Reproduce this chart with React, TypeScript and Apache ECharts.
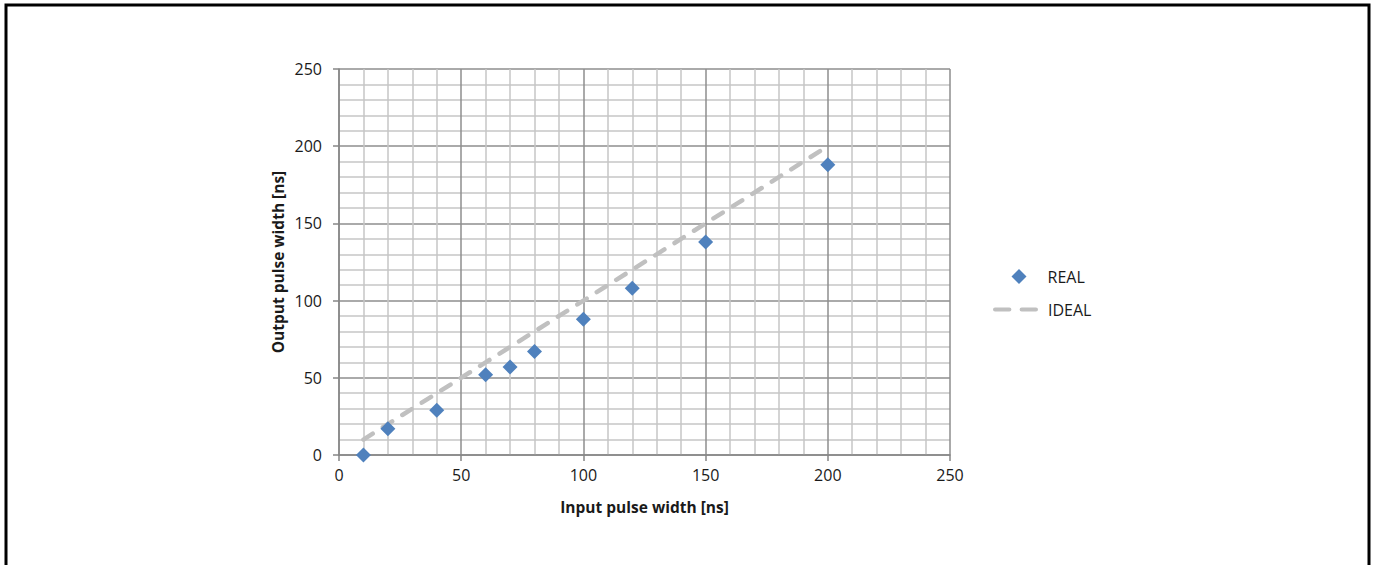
import React, { useEffect, useRef } from "react";
import * as echarts from "echarts";

const inputWidths = [10, 20, 40, 60, 70, 80, 100, 120, 150, 200];
const realOutput = [0, 17, 29, 52, 57, 67, 88, 108, 138, 188];
const idealOutput = [10, 20, 40, 60, 70, 80, 100, 120, 150, 200];
const xTicks = [0, 50, 100, 150, 200, 250];
const yTicks = [0, 50, 100, 150, 200, 250];

const FONT = "'Open Sans', sans-serif";
const TEXT = "#1a1a1a";

export default function App() {
  const ref = useRef<HTMLDivElement>(null);
  useEffect(() => {
    if (!ref.current) return;
    const chart = echarts.init(ref.current, undefined, { renderer: "svg" });
    const axisCommon = (ticks: number[]) => ({
      type: "value" as const,
      min: ticks[0],
      max: ticks[ticks.length - 1],
      interval: ticks[1] - ticks[0],
      axisLine: { show: true, lineStyle: { color: "#868686", width: 1.5 } },
      axisTick: { show: true, length: 6, lineStyle: { color: "#868686", width: 1.5 } },
      splitLine: { show: true, lineStyle: { color: "#8e8e8e", width: 1.5 } },
      minorTick: { show: false, splitNumber: 5 },
      minorSplitLine: { show: true, lineStyle: { color: "#c6c6c6", width: 1.5 } },
      nameTextStyle: { color: TEXT, fontSize: 15.5, fontWeight: "bold" as const, fontFamily: FONT },
    });
    chart.setOption({
      animation: false,
      backgroundColor: "#ffffff",
      grid: { left: 339, right: 425, top: 69, bottom: 110, containLabel: false },
      xAxis: {
        ...axisCommon(xTicks),
        name: "Input pulse width [ns]",
        nameLocation: "middle",
        nameGap: 44,
        axisLabel: { color: TEXT, fontSize: 16, fontFamily: FONT, margin: 12 },
      },
      yAxis: {
        ...axisCommon(yTicks),
        name: "Output pulse width [ns]",
        nameLocation: "middle",
        nameGap: 53,
        axisLabel: { color: TEXT, fontSize: 16, fontFamily: FONT, margin: 17 },
      },
      legend: [
        {
          orient: "vertical",
          left: 1011.5,
          top: 268.5,
          padding: 0,
          itemWidth: 15,
          itemHeight: 15,
          data: [{ name: "REAL", icon: "diamond" }],
          textStyle: { color: TEXT, fontSize: 16, fontFamily: FONT, padding: [0, 0, 0, 16] },
        },
        {
          orient: "vertical",
          left: 993,
          top: 301.5,
          padding: 0,
          itemWidth: 45,
          itemHeight: 5,
          data: [{ name: "IDEAL", icon: "path://M2,0H16A2,2 0 0 1 16,4H2A2,2 0 0 1 2,0Z M28,0H42A2,2 0 0 1 42,4H28A2,2 0 0 1 28,0Z" }],
          textStyle: { color: TEXT, fontSize: 16, fontFamily: FONT, padding: [0, 0, 0, 5] },
        },
      ],
      graphic: [
        {
          type: "rect",
          shape: { x: 6, y: 5, width: 1363, height: 620 },
          style: { fill: "none", stroke: "#000000", lineWidth: 3 },
          silent: true,
        },
      ],
      series: [
        {
          name: "IDEAL",
          type: "line",
          data: inputWidths.map((x, i) => [x, idealOutput[i]]),
          symbol: "none",
          lineStyle: { color: "#c0c0c0", width: 4.5, type: [11, 12], cap: "round" },
          itemStyle: { color: "#c0c0c0" },
          z: 2,
        },
        {
          name: "REAL",
          type: "scatter",
          data: inputWidths.map((x, i) => [x, realOutput[i]]),
          symbol: "diamond",
          symbolSize: 15,
          itemStyle: { color: "#4f81bd", opacity: 1 },
          z: 3,
        },
      ],
    });
    return () => chart.dispose();
  }, []);
  return (
    <div
      ref={ref}
      style={{ position: "fixed", left: 0, top: 0, width: 1375, height: 565, background: "#fff" }}
    />
  );
}
